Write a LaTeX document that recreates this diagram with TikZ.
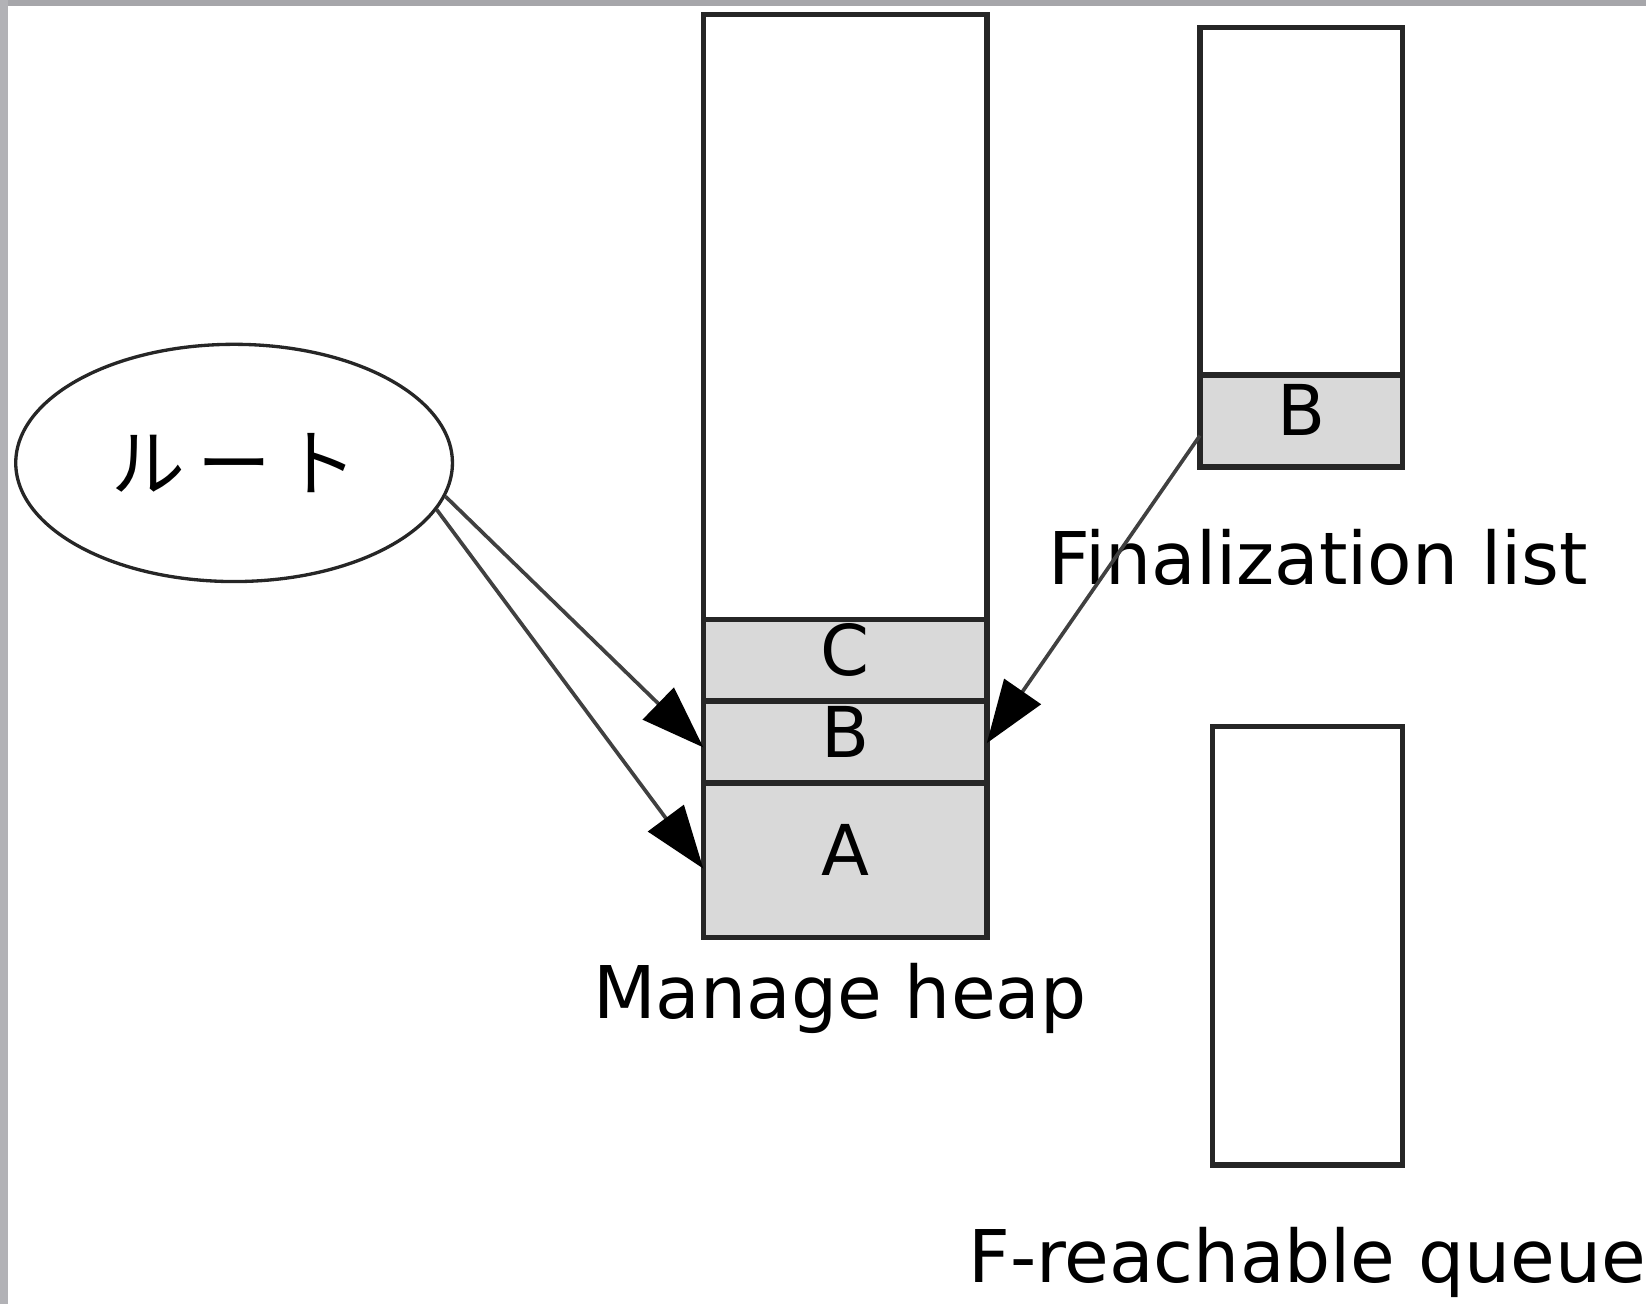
\documentclass[tikz,border=0pt]{standalone}
\usepackage{fontspec}
\setmainfont{DejaVu Sans}
\newfontfamily\jpfont{Noto Sans CJK JP}
\usetikzlibrary{positioning,arrows.meta,shapes.geometric}

\begin{document}
\begin{tikzpicture}[
box/.style={%
draw=black!85,
line width=1.5pt,
inner sep=0pt,
outer sep=0pt,
text depth=0.2cm,
font=\fontsize{19}{22}\selectfont
},
obj/.style={box, fill=black!15},
lbl/.style={font=\fontsize{19.7}{23}\selectfont},
ptr/.style={-{Triangle[length=0.6cm,width=0.42cm,color=black]}, line width=1pt, draw=black!75}
]
\useasboundingbox(0,0)rectangle(15.68,-12.42);
%% frame
\fill[blue!5!black!35](0,0)rectangle(15.68,-0.06);
\fill[blue!5!black!30](0,0)rectangle(0.08,-12.42);
%% Managed heap
\node[box,minimum width=2.70cm,minimum height=5.76cm]at(8.05,-3.02)(free){};
\node[obj,minimum width=2.70cm,minimum height=0.78cm,below=0pt of free](C){C};
\node[obj,minimum width=2.70cm,minimum height=0.78cm,below=0pt of C](B){B};
\node[obj,minimum width=2.70cm,minimum height=1.47cm,below=0pt of B](A){A};
\node[lbl,anchor=base]at(8.00,-9.70)(heap){Manage heap};
%% Finalization list
\node[box,minimum width=1.93cm,minimum height=3.31cm]at(12.395,-1.915)(ffree){};
\node[obj,minimum width=1.93cm,minimum height=0.88cm,below=0pt of ffree](fB){B};
\node[lbl,anchor=base]at(12.56,-5.57)(flist){Finalization list};
%% F-reachable queue
\node[box,minimum width=1.81cm,minimum height=4.18cm]at(12.455,-9.01)(freach){};
\node[lbl,anchor=base west]at(9.10,-12.22)(fqueue){F-reachable queue};
%% Roots
\node[ellipse,draw=black!85,line width=0.9pt,minimum width=4.16cm,minimum height=2.26cm,
font=\jpfont\fontsize{20}{24}\selectfont]at(2.23,-4.41)(root){ル\,ー\,ト};
\draw[ptr](root.-9)--([yshift=-0.05cm]B.west);
\draw[ptr](root.-13)--([yshift=-0.08cm]A.west);
\draw[ptr]([yshift=-0.14cm]fB.west)--([yshift=-0.01cm]B.east);
\end{tikzpicture}
\end{document}
